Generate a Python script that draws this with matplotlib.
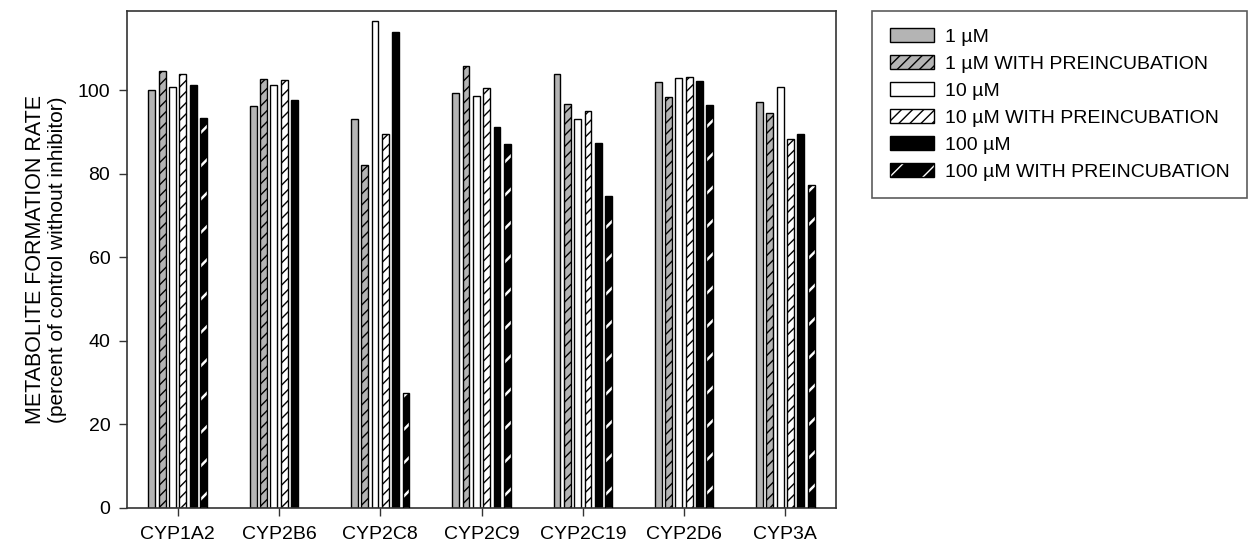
import matplotlib
matplotlib.use("Agg")
import matplotlib.pyplot as plt
import numpy as np
from matplotlib.patches import Patch

plt.rcParams['font.family'] = ['Liberation Sans', 'DejaVu Sans']
plt.rcParams['hatch.linewidth'] = 1.0

categories = ["CYP1A2", "CYP2B6", "CYP2C8", "CYP2C9", "CYP2C19", "CYP2D6", "CYP3A"]
series_labels = ["1 µM", "1 µM WITH PREINCUBATION", "10 µM",
                 "10 µM WITH PREINCUBATION", "100 µM", "100 µM WITH PREINCUBATION"]
v_1uM = [100.0, 96.3, 93.2, 99.3, 103.8, 102.0, 97.3]
v_1uM_pre = [104.7, 102.6, 82.1, 105.8, 96.7, 98.5, 94.6]
v_10uM = [100.9, 101.3, 116.7, 98.6, 93.2, 103.0, 100.8]
v_10uM_pre = [103.9, 102.4, 89.5, 100.6, 95.1, 103.3, 88.3]
v_100uM = [101.4, 97.7, 114.0, 91.3, 87.5, 102.2, 89.6]
v_100uM_pre = [93.3, np.nan, 27.5, 87.2, 74.7, 96.4, 77.3]
series = [v_1uM, v_1uM_pre, v_10uM, v_10uM_pre, v_100uM, v_100uM_pre]

grey = '#b4b4b4'
styles = [
    dict(face=grey, hatch=None),
    dict(face=grey, hatch='///'),
    dict(face='white', hatch=None),
    dict(face='white', hatch='///'),
    dict(face='black', hatch=None),
    dict(face='black', hatch='/', white_hatch=True),
]

fig = plt.figure(figsize=(12.51, 5.46), dpi=100)
ax = fig.add_axes([127/1251, 1-508/546, (836-127)/1251, (508-11)/546])

x = np.arange(len(categories))
pitch = 0.102
width = 0.068
handles = []
for i, (vals, st) in enumerate(zip(series, styles)):
    pos = x + (i - 2.5) * pitch
    vals = np.array(vals, dtype=float)
    if st.get('white_hatch'):
        with plt.rc_context({'hatch.linewidth': 1.8}):
            ax.bar(pos, vals, width, color='black', edgecolor='white', hatch=st['hatch'], linewidth=0, zorder=2)
            hp = Patch(facecolor='black', edgecolor='white', hatch=st['hatch'], linewidth=0)
        ax.bar(pos, vals, width, fill=False, edgecolor='black', linewidth=1.0, zorder=3)
        h = (hp, Patch(fill=False, edgecolor='black', linewidth=1.0))
    else:
        ax.bar(pos, vals, width, color=st['face'], edgecolor='black', hatch=st['hatch'], linewidth=1.0, zorder=2)
        h = Patch(facecolor=st['face'], edgecolor='black', hatch=st['hatch'], linewidth=1.0)
    handles.append(h)

ax.set_xlim(-0.5, 6.5)
ax.set_ylim(0, 119)
ax.set_yticks([0, 20, 40, 60, 80, 100])
ax.set_xticks(x)
ax.set_xticklabels(categories)
ax.tick_params(axis='both', labelsize=14, length=6, width=1.0, color='#333333', direction='out')
ax.tick_params(axis='x', pad=7)
ax.tick_params(axis='y', pad=6)
for s in ax.spines.values():
    s.set_linewidth(1.2)
    s.set_color('#333333')

fig.text(36/1251, 1-259.5/546, "METABOLITE FORMATION RATE", rotation=90, ha='center', va='center', fontsize=15.5)
fig.text(58/1251, 1-259.5/546, "(percent of control without inhibitor)", rotation=90, ha='center', va='center', fontsize=15)

leg = fig.legend(handles, series_labels, loc='upper left', bbox_to_anchor=(872/1251, 1-11/546),
                 fontsize=14, frameon=True, fancybox=False, handlelength=2.3, handleheight=0.7,
                 handletextpad=0.55, labelspacing=0.48, borderpad=0.9, borderaxespad=0)
leg.get_frame().set_edgecolor('#333333')
leg.get_frame().set_linewidth(1.2)

fig.savefig("out.png", dpi=100)
